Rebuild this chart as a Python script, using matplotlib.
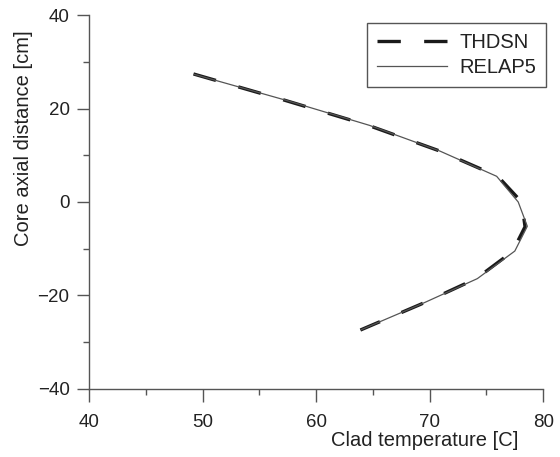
import numpy as np
import matplotlib
matplotlib.use('Agg')
import matplotlib.pyplot as plt
from matplotlib.ticker import MultipleLocator

plt.rcParams['font.family'] = ['Liberation Sans', 'DejaVu Sans']

# RELAP5 node values (temperature, axial position)
relap_z = [27.3, 21.8, 16.4, 10.9, 5.5, 0.0, -5.2, -10.5, -16.4, -21.8, -27.3]
relap_t = [49.3, 57.3, 64.7, 70.9, 75.9, 77.8, 78.6, 77.5, 74.2, 69.3, 64.0]

# THDSN values
thdsn_z = [27.4, 21.8, 16.4, 10.9, 5.5, 0.0, -5.3, -10.6, -16.4, -21.9, -27.4]
thdsn_t = [49.2, 57.2, 64.6, 70.9, 76.0, 78.1, 78.4, 77.3, 74.1, 69.2, 63.9]

x_ticks = [40, 50, 60, 70, 80]
y_ticks = [-40, -20, 0, 20, 40]

fig = plt.figure(figsize=(5.6, 4.57), dpi=100)
ax = fig.add_axes([0.159, 0.149, 0.811, 0.818])

ax.plot(thdsn_t, thdsn_z, color='#1a1a1a', lw=2.4, dashes=(7, 7), label='THDSN')
ax.plot(relap_t, relap_z, color='#555555', lw=0.9, label='RELAP5')

ax.set_xlim(40, 80)
ax.set_ylim(-40, 40)
ax.set_xticks(x_ticks)
ax.set_yticks(y_ticks)
ax.xaxis.set_minor_locator(MultipleLocator(5))
ax.yaxis.set_minor_locator(MultipleLocator(10))
ax.set_yticklabels(['\u221240', '\u221220', '0', '20', '40'])

for s in ['top', 'right']:
    ax.spines[s].set_visible(False)
for s in ['left', 'bottom']:
    ax.spines[s].set_color('#555555')
    ax.spines[s].set_linewidth(1.0)

ax.tick_params(which='major', direction='out', length=9, width=1.0, color='#555555',
               labelsize=13.5, labelcolor='#222222')
ax.tick_params(which='minor', direction='out', length=4.5, width=1.0, color='#555555')
ax.tick_params(axis='x', which='major', pad=9)
ax.tick_params(axis='y', which='major', pad=5)

ax.set_xlabel('Clad temperature [C]', fontsize=14.5, color='#222222')
ax.set_ylabel('Core axial distance [cm]', fontsize=14.5, color='#222222')
ax.xaxis.set_label_coords(0.739, -0.139, transform=ax.transAxes)
ax.yaxis.set_label_coords(-0.145, 0.672, transform=ax.transAxes)
ax.xaxis.label.set_va('center')
ax.yaxis.label.set_va('center')

leg = ax.legend(loc='upper right', bbox_to_anchor=(1.007, 0.979), borderaxespad=0,
                fontsize=14.5, handlelength=3.5, fancybox=False, framealpha=1,
                edgecolor='#555555', labelspacing=0.3, borderpad=0.5, handletextpad=0.6)
leg.get_frame().set_linewidth(1.0)
for t in leg.get_texts():
    t.set_color('#222222')

fig.savefig('out.png', dpi=100)
